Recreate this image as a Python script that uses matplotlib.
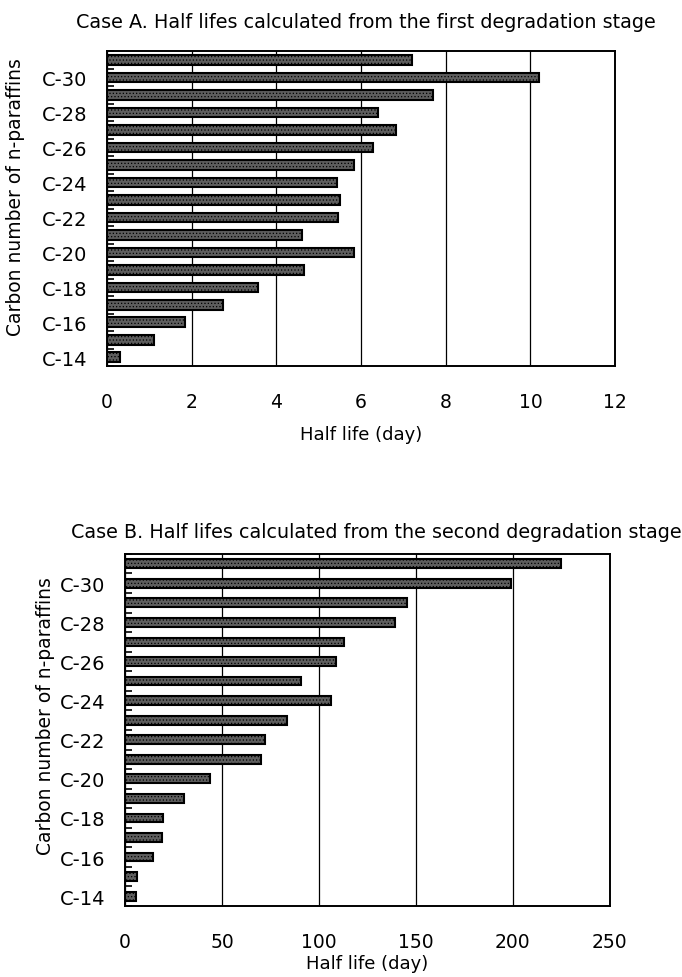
import numpy as np
import matplotlib
matplotlib.use("Agg")
import matplotlib.pyplot as plt

plt.rcParams['font.family'] = ['DejaVu Sans']
plt.rcParams['hatch.linewidth'] = 0.5

# carbon numbers, C-14 at bottom to C-31 at top
carbon = np.arange(14, 32)
# half lifes (day), first degradation stage (Case A), C-14 .. C-31
half_a = [0.30, 1.11, 1.85, 2.73, 3.56, 4.64, 5.84, 4.60, 5.45, 5.50,
          5.44, 5.84, 6.28, 6.82, 6.41, 7.70, 10.20, 7.21]
# half lifes (day), second degradation stage (Case B), C-14 .. C-31
half_b = [5.5, 6.0, 14.3, 18.9, 19.4, 30.6, 44.0, 70.1, 72.0, 83.3,
          106.2, 90.9, 108.6, 112.7, 139.3, 145.4, 199.0, 224.7]
tick_pos = np.arange(14, 31, 2)
tick_labels = ['C-%d' % c for c in tick_pos]

fig = plt.figure(figsize=(6.82, 9.78), dpi=100)


def draw(ax, vals, xmax, step, bar_h, ylab_x, ylab_y, xpad):
    ax.barh(carbon, vals, height=bar_h, color='#5e5e5e', edgecolor='black',
            hatch='.....', linewidth=1.5, zorder=3)
    ax.set_xlim(0, xmax)
    ax.set_ylim(13.5, 31.5)
    ax.set_xticks(np.arange(0, xmax + 1, step))
    ax.set_yticks(tick_pos)
    ax.set_yticklabels(tick_labels)
    ax.set_yticks(np.arange(13.5, 31.6, 1), minor=True)
    ax.tick_params(axis='y', which='major', length=0, labelsize=14, pad=14)
    ax.tick_params(axis='y', which='minor', length=5, direction='in', width=1.2)
    ax.tick_params(axis='x', length=0, labelsize=13.5, pad=19)
    ax.grid(axis='x', color='black', linewidth=0.9, zorder=0)
    for s in ax.spines.values():
        s.set_linewidth(1.4)
    ax.set_xlabel('Half life (day)', fontsize=13, labelpad=xpad)
    ax.set_ylabel('Carbon number of n-paraffins', fontsize=13.5)
    ax.yaxis.set_label_coords(ylab_x, ylab_y)


ax1 = fig.add_axes([0.157, 0.6247, 0.745, 0.322])
draw(ax1, half_a, 12, 2, 0.55, -0.161, 0.54, 10)
fig.text(0.537, 0.9775, 'Case A. Half lifes calculated from the first degradation stage',
         fontsize=13.8, ha='center', va='center')

ax2 = fig.add_axes([0.1833, 0.0726, 0.711, 0.36])
draw(ax2, half_b, 250, 50, 0.45, -0.144, 0.543, 2)
fig.text(0.552, 0.456, 'Case B. Half lifes calculated from the second degradation stage',
         fontsize=13.8, ha='center', va='center')

plt.savefig('out.png', dpi=100)
